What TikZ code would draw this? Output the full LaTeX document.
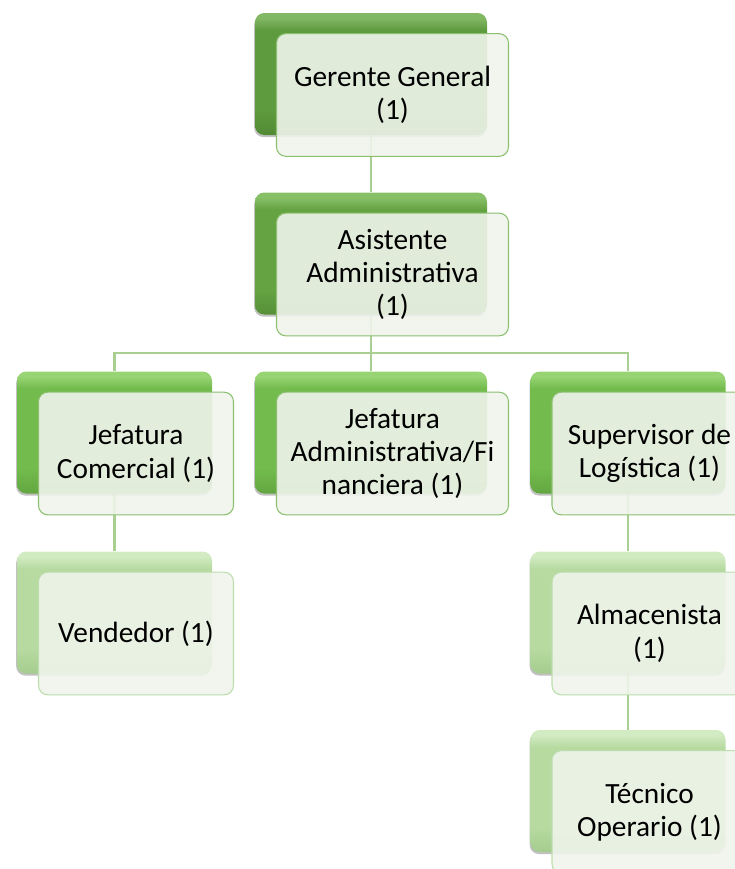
\documentclass[tikz,border=0pt]{standalone}
\usepackage{fontspec}
\setmainfont{Carlito}
\usepackage{xcolor}
\usetikzlibrary{shadows,backgrounds}
\definecolor{lvlonebase}{HTML}{5E9A3E}
\definecolor{lvlonelight}{HTML}{82B864}
\definecolor{lvlonedark}{HTML}{518A34}
\definecolor{lvltwobase}{HTML}{64A242}
\definecolor{lvltwolight}{HTML}{88C068}
\definecolor{lvltwodark}{HTML}{568F38}
\definecolor{lvlthreebase}{HTML}{72BB4C}
\definecolor{lvlthreelight}{HTML}{98D474}
\definecolor{lvlthreedark}{HTML}{63A641}
\definecolor{lvlfourbase}{HTML}{B6DAA0}
\definecolor{lvlfourlight}{HTML}{D2EBC3}
\definecolor{lvlfourdark}{HTML}{A5CC8E}
\definecolor{frontfill}{HTML}{EFF4EB}
\definecolor{frontedge}{HTML}{8CC070}
\definecolor{paleedge}{HTML}{BCDDAC}
\definecolor{linkgreen}{HTML}{A9CF92}
\pgfdeclareverticalshading{glossone}{100bp}{color(0bp)=(lvlonedark); color(25bp)=(lvlonedark); color(35bp)=(lvlonebase); color(68bp)=(lvlonebase); color(73bp)=(lvlonelight); color(100bp)=(lvlonelight)}
\pgfdeclareverticalshading{glosstwo}{100bp}{color(0bp)=(lvltwodark); color(25bp)=(lvltwodark); color(35bp)=(lvltwobase); color(68bp)=(lvltwobase); color(73bp)=(lvltwolight); color(100bp)=(lvltwolight)}
\pgfdeclareverticalshading{glossthree}{100bp}{color(0bp)=(lvlthreedark); color(25bp)=(lvlthreedark); color(35bp)=(lvlthreebase); color(68bp)=(lvlthreebase); color(73bp)=(lvlthreelight); color(100bp)=(lvlthreelight)}
\pgfdeclareverticalshading{glossfour}{100bp}{color(0bp)=(lvlfourdark); color(25bp)=(lvlfourdark); color(35bp)=(lvlfourbase); color(68bp)=(lvlfourbase); color(73bp)=(lvlfourlight); color(100bp)=(lvlfourlight)}
\tikzset{
	backbox/.style={rounded corners=7pt,minimum height=91.5pt,inner sep=0pt,%
		drop shadow={shadow xshift=-0.6pt,shadow yshift=-1.6pt,opacity=0.35,fill=black!70}},%
	lvlone/.style={shading=glossone},%
	lvltwo/.style={shading=glosstwo},%
	lvlthree/.style={shading=glossthree},%
	lvlfour/.style={shading=glossfour},%
	frontbox/.style={draw=frontedge,line width=0.8pt,fill=frontfill,fill opacity=0.9,text opacity=1,%
		rounded corners=7pt,minimum height=92pt,inner sep=1pt,align=center,%
		font=\fontsize{22}{25}\selectfont},%
	paleframe/.style={draw=paleedge},%
	orgline/.style={linkgreen,line width=1.6pt},%
}
\def\widebox{174pt}
\def\narrowbox{146.25pt}

\begin{document}
\begin{tikzpicture}[x=0.75pt,y=-0.75pt]
		% Frame {{{
		\useasboundingbox (0,0) rectangle (735,869);
		\clip (0,0) rectangle (735,869);
		% }}}
		% Back boxes {{{
		\node[backbox,lvlone,minimum width=\widebox] (gg) at (371,74) {};
		\node[backbox,lvltwo,minimum width=\widebox] (asi) at (371,253.5) {};
		\node[backbox,lvlthree,minimum width=\narrowbox] (jc) at (114.5,432.5) {};
		\node[backbox,lvlthree,minimum width=\widebox] (jaf) at (371,432.5) {};
		\node[backbox,lvlthree,minimum width=\narrowbox] (sl) at (628,432.5) {};
		\node[backbox,lvlfour,minimum width=\narrowbox] (ven) at (114.5,612.5) {};
		\node[backbox,lvlfour,minimum width=\narrowbox] (alm) at (628,612.5) {};
		\node[backbox,lvlfour,minimum width=\narrowbox] (tec) at (628,791) {};
		% }}}
		% Front boxes {{{
		\node[frontbox,minimum width=\widebox] (ggt) at ([shift={(21.5,21)}]gg) {Gerente General\\(1)};
		\node[frontbox,minimum width=\widebox] (asit) at ([shift={(21.5,21)}]asi) {Asistente\\Administrativa\\(1)};
		\node[frontbox,minimum width=\narrowbox] (jct) at ([shift={(21.5,21)}]jc) {Jefatura\\Comercial (1)};
		\node[frontbox,minimum width=\widebox] (jaft) at ([shift={(21.5,21)}]jaf) {Jefatura\\Administrativa/Fi\\nanciera (1)};
		\node[frontbox,minimum width=\narrowbox] (slt) at ([shift={(21.5,21)}]sl) {Supervisor de\\Logística (1)};
		\node[frontbox,paleframe,minimum width=\narrowbox] (vent) at ([shift={(21.5,21)}]ven) {Vendedor (1)};
		\node[frontbox,paleframe,minimum width=\narrowbox] (almt) at ([shift={(21.5,21)}]alm) {Almacenista\\(1)};
		\node[frontbox,paleframe,minimum width=\narrowbox] (tect) at ([shift={(21.5,21)}]tec) {Técnico\\Operario (1)};
		% }}}
		% Links {{{
		\coordinate (bus) at (371,353);
		\begin{pgfonlayer}{background}
			\draw[orgline] (gg) -- (asi);
			\draw[orgline] (asi) -- (bus);
			\draw[orgline] (jc.north) |- (bus) -| (sl.north);
			\draw[orgline] (bus) -- (jaf.north);
			\draw[orgline] (jc) -- (ven);
			\draw[orgline] (sl) -- (alm);
			\draw[orgline] (alm) -- (tec);
		\end{pgfonlayer}
		% }}}
	\end{tikzpicture}
\end{document}
